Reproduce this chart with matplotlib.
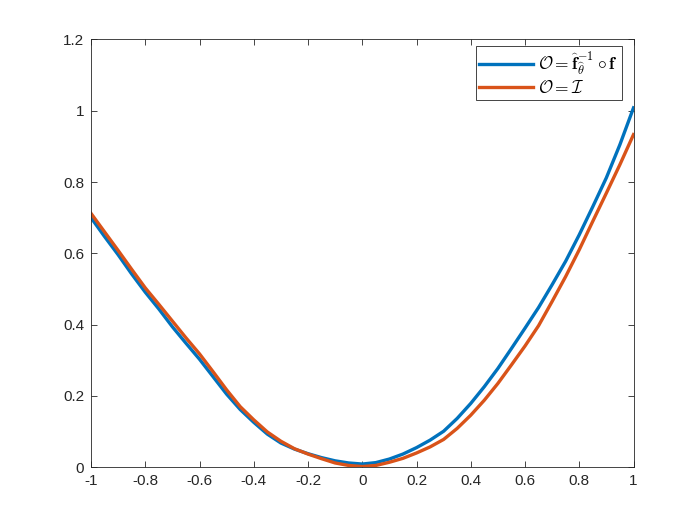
import numpy as np
import matplotlib
matplotlib.use('Agg')
import matplotlib.pyplot as plt

# valores (paso 0.05)
x = [-1.0, -0.95, -0.9, -0.85, -0.8, -0.75, -0.7, -0.65, -0.6, -0.55, -0.5,
     -0.45, -0.4, -0.35, -0.3, -0.25, -0.2, -0.15, -0.1, -0.05, 0.0,
     0.05, 0.1, 0.15, 0.2, 0.25, 0.3, 0.35, 0.4, 0.45, 0.5,
     0.55, 0.6, 0.65, 0.7, 0.75, 0.8, 0.85, 0.9, 0.95, 1.0]
y_inv = [0.700, 0.647, 0.596, 0.542, 0.491, 0.444, 0.394, 0.348, 0.303, 0.254, 0.205,
         0.162, 0.126, 0.093, 0.068, 0.051, 0.038, 0.027, 0.018, 0.012, 0.009,
         0.013, 0.023, 0.037, 0.055, 0.076, 0.101, 0.137, 0.179, 0.226, 0.277,
         0.333, 0.390, 0.448, 0.512, 0.578, 0.652, 0.731, 0.812, 0.905, 1.008]
y_id = [0.712, 0.660, 0.608, 0.555, 0.503, 0.457, 0.410, 0.363, 0.318, 0.268, 0.217,
        0.170, 0.133, 0.099, 0.073, 0.052, 0.037, 0.024, 0.012, 0.005, 0.002,
        0.005, 0.014, 0.025, 0.040, 0.057, 0.078, 0.109, 0.146, 0.188, 0.235,
        0.287, 0.340, 0.397, 0.465, 0.535, 0.610, 0.690, 0.769, 0.849, 0.933]

xticks = [-1, -0.8, -0.6, -0.4, -0.2, 0, 0.2, 0.4, 0.6, 0.8, 1]
yticks = [0, 0.2, 0.4, 0.6, 0.8, 1, 1.2]

plt.rcParams['font.family'] = ['Liberation Sans', 'DejaVu Sans']
plt.rcParams['mathtext.fontset'] = 'cm'

fig = plt.figure(figsize=(7, 5.25), dpi=100)
ax = fig.add_axes([0.13, 0.11, 0.775, 0.815])

ax.plot(x, y_inv, color='#0072BD', lw=2.4,
        label=r'$\mathcal{O} = \widehat{\mathbf{f}}^{\mathbf{-1}}_{\widehat{\theta}} \circ \mathbf{f}$')
ax.plot(x, y_id, color='#D95319', lw=2.4,
        label=r'$\mathcal{O} = \mathcal{I}$')

ax.set_xlim(-1, 1)
ax.set_ylim(0, 1.2)
ax.set_xticks(xticks)
ax.set_yticks(yticks)
ax.set_xticklabels(['-1', '-0.8', '-0.6', '-0.4', '-0.2', '0', '0.2', '0.4', '0.6', '0.8', '1'])
ax.set_yticklabels(['0', '0.2', '0.4', '0.6', '0.8', '1', '1.2'])
ax.tick_params(direction='in', length=4, width=0.6, colors='#262626',
               labelsize=11, top=True, right=True, pad=5)
for s in ax.spines.values():
    s.set_linewidth(0.6)
    s.set_color('#262626')

leg = ax.legend(loc='upper right', bbox_to_anchor=(0.978, 0.984), fontsize=12.5,
                fancybox=False, framealpha=1, edgecolor='#262626',
                handlelength=3.1, handletextpad=0.3, borderaxespad=0,
                borderpad=0.2, labelspacing=0.1)
leg.get_frame().set_linewidth(0.6)

fig.savefig('out.png', dpi=100)
